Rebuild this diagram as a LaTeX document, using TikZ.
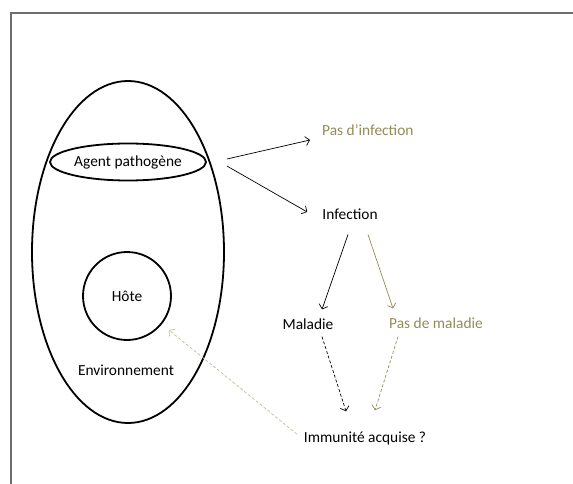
\documentclass[tikz,border=0pt]{standalone}
\usepackage{fontspec}
\setmainfont{Carlito}
\usepackage{tikz}
\usetikzlibrary{shapes.geometric, arrows.meta, positioning}
\definecolor{tanolive}{HTML}{948A54}
\definecolor{tanlight}{HTML}{C4BD97}
\definecolor{framegrey}{HTML}{6E6E6E}
\tikzstyle{zone} = [ellipse, draw=black, line width=1.8pt, inner sep=0pt]
\tikzstyle{tag} = [inner sep=2pt, font=\fontsize{15.4}{18}\selectfont]
\tikzstyle{arrow} = [line width=0.7pt, -{Straight Barb[length=4pt, width=9pt]}]
\tikzstyle{dasharrow} = [arrow, dash pattern=on 3pt off 2pt]

\begin{document}
\begin{tikzpicture}[x=1pt, y=-1pt]
    \useasboundingbox (0,0) rectangle (573,484);
    \draw[framegrey, line width=1.4pt] (573,13) -- (11,13) -- (11,484);

    % the three circles
    \node[zone, minimum width=192pt, minimum height=342pt] (env) at (128,252) {};
    \node[zone, minimum width=156pt, minimum height=37pt] (agent) at (128,162) {};
    \node[zone, circle, minimum size=88pt] (hote) at (127,296) {};
    \node[tag] at (agent) {Agent pathogène};
    \node[tag] at (hote) {Hôte};
    \node[tag] (envtext) at (126,370) {Environnement};

    % outcomes
    \node[tag, text=tanolive, anchor=west] (pasinf) at (320,130) {Pas d’infection};
    \node[tag] (infection) at (350,214) {Infection};
    \node[tag] (maladie) at (308,324) {Maladie};
    \node[tag, text=tanolive] (pasmal) at (436,323) {Pas de maladie};
    \node[tag] (immun) at (365,438) {Immunité acquise ?};

    \draw[arrow] ([xshift=20pt, yshift=3pt]agent.east) -- ([xshift=-10pt, yshift=-10pt]pasinf.west);
    \draw[arrow] ([xshift=20pt, yshift=-4pt]agent.east) -- ([xshift=-13pt, yshift=2pt]infection.west);
    \draw[arrow] ([xshift=-2pt, yshift=-13pt]infection.south) -- ([xshift=14pt, yshift=7pt]maladie.north);
    \draw[arrow, tanolive] ([xshift=18pt, yshift=-13pt]infection.south) -- ([xshift=-43pt, yshift=7pt]pasmal.north);
    \draw[dasharrow] ([xshift=14pt, yshift=-5pt]maladie.south) -- ([xshift=-19pt, yshift=18pt]immun.north);
    \draw[dasharrow, tanolive] ([xshift=-38pt, yshift=-6pt]pasmal.south) -- ([xshift=10pt, yshift=19pt]immun.north);
    \draw[dasharrow, tanlight, shorten <=6pt, shorten >=9pt] (immun.west) -- (hote);
\end{tikzpicture}
\end{document}
